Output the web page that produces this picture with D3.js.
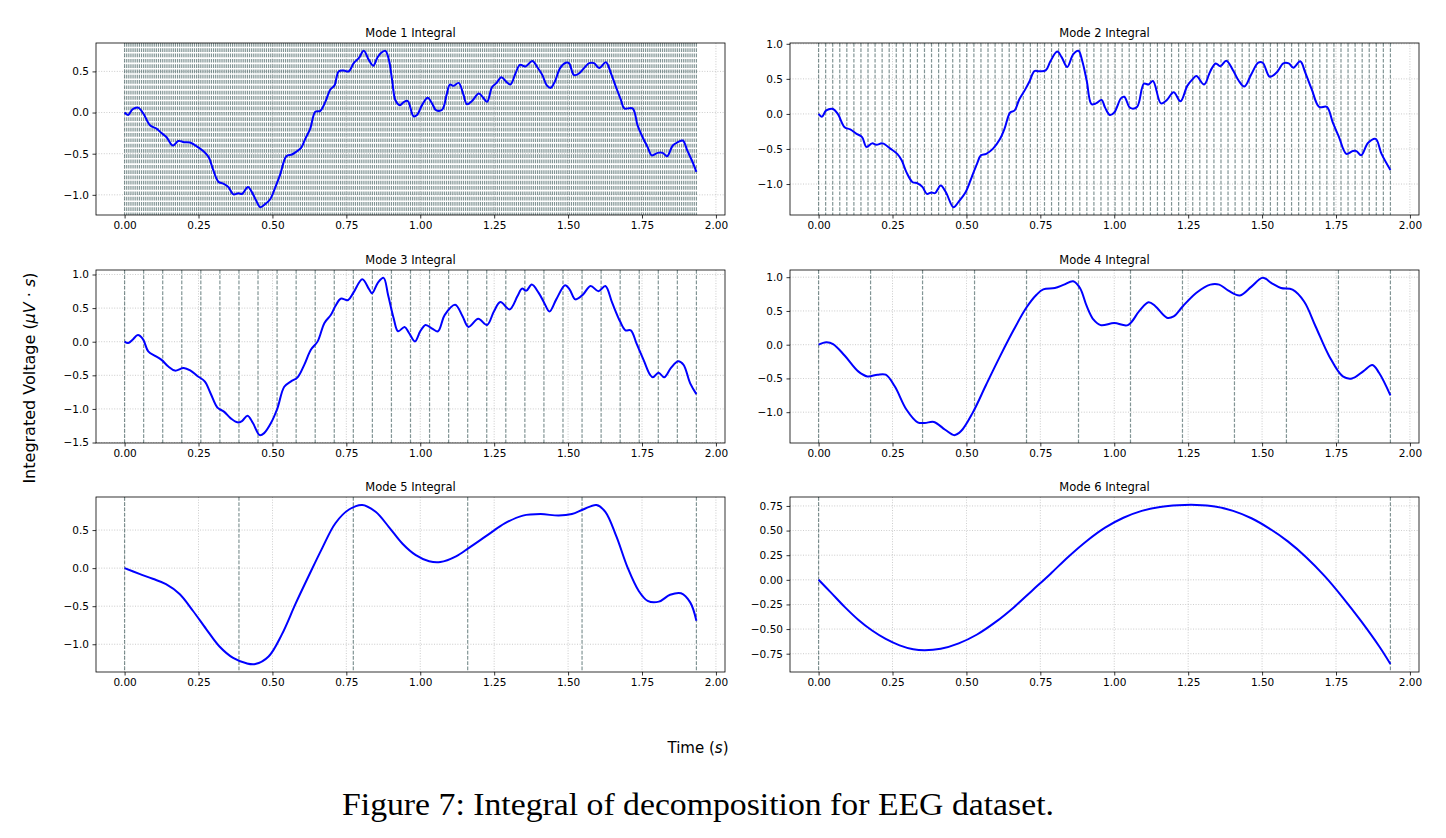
<!DOCTYPE html>
<html><head><meta charset="utf-8">
<script src="https://cdn.jsdelivr.net/npm/d3@7"></script>
<style>body{margin:0;background:#fff;} svg{display:block;}</style>
</head><body><svg id="c" width="1446" height="838"></svg>
<script>
// ---------- DATA ----------
const titles = ["Mode 1 Integral","Mode 2 Integral","Mode 3 Integral","Mode 4 Integral","Mode 5 Integral","Mode 6 Integral"];
const tEnd = 1.934;
const segmentCounts = [270, 81, 30, 11, 5, 1];
const xTicks = [0, 0.25, 0.5, 0.75, 1.0, 1.25, 1.5, 1.75, 2.0];
const yTicks1 = [-1.0, -0.5, 0, 0.5];
const yTicks2 = [-1.0, -0.5, 0, 0.5, 1.0];
const yTicks3 = [-1.5, -1.0, -0.5, 0, 0.5, 1.0];
const yTicks4 = [-1.0, -0.5, 0, 0.5, 1.0];
const yTicks5 = [-1.0, -0.5, 0, 0.5];
const yTicks6 = [-0.75, -0.5, -0.25, 0, 0.25, 0.5, 0.75];

const mode1T = [0,0.012,0.027,0.046,0.063,0.086,0.108,0.125,0.142,0.163,0.182,0.201,0.221,0.244,0.267,0.284,0.30,0.317,0.334,0.351,0.368,0.385,0.397,0.417,0.431,0.445,0.459,0.476,0.493,0.51,0.527,0.547,0.566,0.583,0.597,0.611,0.628,0.645,0.662,0.679,0.696,0.71,0.724,0.741,0.758,0.775,0.792,0.809,0.826,0.841,0.854,0.866,0.882,0.894,0.905,0.916,0.931,0.945,0.958,0.977,0.989,1.006,1.025,1.04,1.053,1.074,1.09,1.10,1.113,1.13,1.145,1.158,1.175,1.198,1.213,1.226,1.243,1.258,1.274,1.292,1.305,1.322,1.337,1.356,1.379,1.396,1.413,1.428,1.441,1.455,1.473,1.492,1.503,1.52,1.537,1.554,1.571,1.588,1.605,1.628,1.645,1.662,1.679,1.69,1.718,1.735,1.752,1.769,1.783,1.803,1.82,1.835,1.854,1.871,1.888,1.903,1.922,1.934];
const mode1V = [0,-0.03,0.04,0.06,-0.01,-0.155,-0.195,-0.25,-0.30,-0.40,-0.345,-0.36,-0.365,-0.41,-0.47,-0.54,-0.70,-0.84,-0.865,-0.905,-0.995,-0.98,-0.99,-0.905,-0.97,-1.07,-1.15,-1.11,-1.05,-0.905,-0.745,-0.53,-0.51,-0.47,-0.43,-0.32,-0.195,0.01,0.02,0.13,0.28,0.33,0.50,0.51,0.50,0.60,0.66,0.75,0.64,0.57,0.66,0.72,0.75,0.64,0.39,0.15,0.09,0.13,0.14,-0.045,-0.03,0.09,0.18,0.11,0.03,0.035,0.23,0.34,0.325,0.36,0.23,0.10,0.14,0.23,0.18,0.13,0.31,0.36,0.43,0.37,0.34,0.475,0.58,0.56,0.625,0.55,0.455,0.33,0.30,0.375,0.54,0.605,0.60,0.455,0.475,0.54,0.60,0.60,0.54,0.61,0.475,0.31,0.15,0.05,0.05,-0.155,-0.30,-0.42,-0.52,-0.49,-0.49,-0.53,-0.40,-0.36,-0.34,-0.46,-0.61,-0.72];

const mode2T = [0,0.011,0.026,0.049,0.065,0.088,0.107,0.127,0.147,0.162,0.181,0.196,0.216,0.243,0.266,0.281,0.297,0.317,0.335,0.351,0.366,0.382,0.394,0.413,0.431,0.456,0.474,0.498,0.518,0.536,0.549,0.567,0.59,0.614,0.629,0.648,0.663,0.679,0.699,0.714,0.73,0.745,0.768,0.784,0.807,0.822,0.841,0.861,0.879,0.892,0.907,0.923,0.938,0.957,0.969,0.985,1.0,1.023,1.034,1.054,1.077,1.10,1.116,1.131,1.158,1.178,1.201,1.224,1.247,1.266,1.278,1.304,1.325,1.343,1.359,1.379,1.402,1.42,1.44,1.464,1.487,1.502,1.526,1.549,1.572,1.59,1.606,1.629,1.646,1.668,1.693,1.719,1.739,1.76,1.785,1.807,1.819,1.835,1.858,1.884,1.904,1.934];
const mode2V = [0,-0.04,0.05,0.07,0.0,-0.19,-0.22,-0.28,-0.33,-0.47,-0.42,-0.44,-0.42,-0.495,-0.57,-0.66,-0.83,-0.97,-0.99,-1.04,-1.14,-1.12,-1.13,-1.02,-1.12,-1.33,-1.25,-1.11,-0.90,-0.71,-0.59,-0.57,-0.495,-0.355,-0.21,0.02,0.05,0.21,0.35,0.47,0.61,0.61,0.62,0.75,0.89,0.81,0.67,0.85,0.90,0.75,0.47,0.14,0.15,0.20,0.09,-0.015,0.02,0.225,0.245,0.085,0.10,0.43,0.42,0.47,0.15,0.20,0.31,0.18,0.40,0.50,0.54,0.42,0.61,0.72,0.68,0.76,0.62,0.48,0.39,0.57,0.73,0.73,0.53,0.59,0.72,0.72,0.66,0.75,0.59,0.35,0.10,0.10,-0.12,-0.33,-0.57,-0.53,-0.53,-0.59,-0.415,-0.355,-0.57,-0.80];

const mode3T = [0,0.012,0.027,0.045,0.062,0.08,0.103,0.125,0.148,0.17,0.2,0.223,0.246,0.271,0.291,0.314,0.336,0.359,0.382,0.397,0.416,0.434,0.457,0.472,0.495,0.517,0.54,0.563,0.585,0.608,0.63,0.653,0.676,0.698,0.713,0.731,0.756,0.774,0.804,0.827,0.837,0.857,0.876,0.891,0.91,0.925,0.947,0.962,0.982,1.0,1.018,1.042,1.06,1.083,1.118,1.143,1.163,1.196,1.226,1.249,1.271,1.302,1.329,1.344,1.359,1.377,1.4,1.419,1.437,1.46,1.49,1.505,1.525,1.55,1.576,1.603,1.626,1.649,1.676,1.694,1.712,1.731,1.757,1.777,1.787,1.806,1.825,1.848,1.872,1.89,1.913,1.934];
const mode3V = [0,-0.02,0.03,0.10,0.04,-0.145,-0.21,-0.27,-0.37,-0.43,-0.39,-0.43,-0.51,-0.59,-0.77,-0.98,-1.04,-1.14,-1.20,-1.18,-1.10,-1.21,-1.39,-1.36,-1.21,-0.99,-0.67,-0.59,-0.53,-0.34,-0.12,0.005,0.28,0.40,0.53,0.64,0.62,0.73,0.93,0.78,0.72,0.88,0.95,0.70,0.35,0.155,0.22,0.13,0.005,0.155,0.25,0.19,0.155,0.40,0.55,0.38,0.22,0.34,0.25,0.45,0.59,0.48,0.68,0.79,0.76,0.85,0.73,0.58,0.45,0.63,0.84,0.78,0.63,0.70,0.83,0.75,0.83,0.58,0.30,0.17,0.17,-0.02,-0.29,-0.49,-0.53,-0.46,-0.53,-0.39,-0.29,-0.34,-0.62,-0.78];

const mode4T = [0,0.026,0.049,0.088,0.134,0.165,0.199,0.227,0.258,0.297,0.335,0.359,0.39,0.428,0.459,0.482,0.521,0.567,0.614,0.66,0.703,0.737,0.76,0.799,0.83,0.861,0.884,0.907,0.93,0.954,1.0,1.046,1.085,1.116,1.139,1.178,1.201,1.232,1.278,1.325,1.355,1.386,1.425,1.464,1.502,1.533,1.564,1.603,1.642,1.681,1.727,1.773,1.804,1.842,1.873,1.896,1.934];
const mode4V = [0,0.035,0.01,-0.16,-0.395,-0.47,-0.445,-0.445,-0.62,-0.96,-1.15,-1.16,-1.145,-1.26,-1.34,-1.28,-1.01,-0.59,-0.17,0.22,0.55,0.74,0.82,0.84,0.89,0.94,0.84,0.57,0.37,0.29,0.32,0.29,0.50,0.63,0.57,0.40,0.42,0.57,0.77,0.89,0.89,0.80,0.73,0.86,0.99,0.91,0.84,0.815,0.64,0.27,-0.17,-0.47,-0.50,-0.395,-0.30,-0.42,-0.75];

const mode5T = [0,0.05,0.095,0.14,0.186,0.231,0.276,0.321,0.367,0.412,0.442,0.487,0.532,0.578,0.623,0.668,0.713,0.759,0.804,0.849,0.894,0.94,0.985,1.03,1.068,1.121,1.166,1.226,1.287,1.347,1.407,1.468,1.513,1.551,1.596,1.626,1.664,1.701,1.739,1.769,1.807,1.845,1.882,1.913,1.934];
const mode5V = [0,-0.075,-0.14,-0.21,-0.34,-0.56,-0.80,-1.03,-1.18,-1.25,-1.26,-1.16,-0.87,-0.47,-0.10,0.26,0.59,0.77,0.83,0.74,0.54,0.32,0.17,0.09,0.08,0.155,0.27,0.43,0.59,0.69,0.71,0.69,0.71,0.77,0.83,0.74,0.41,0.01,-0.30,-0.43,-0.44,-0.35,-0.33,-0.45,-0.69];

const mode6T = [0,0.042,0.088,0.134,0.181,0.227,0.274,0.32,0.359,0.413,0.474,0.536,0.598,0.66,0.722,0.784,0.845,0.907,0.969,1.031,1.093,1.155,1.216,1.278,1.34,1.402,1.464,1.525,1.587,1.649,1.711,1.773,1.835,1.897,1.934];
const mode6V = [0,-0.13,-0.275,-0.405,-0.515,-0.60,-0.665,-0.705,-0.715,-0.70,-0.645,-0.555,-0.43,-0.28,-0.11,0.06,0.235,0.395,0.53,0.63,0.70,0.74,0.757,0.76,0.745,0.70,0.625,0.52,0.39,0.23,0.04,-0.18,-0.42,-0.68,-0.855];

// ---------- LAYOUT ----------
const svg = d3.select("#c");
const cols = [{x0:96, x1:725}, {x0:790, x1:1419}];
const rows = [{y0:43, y1:215}, {y0:270, y1:443}, {y0:497, y1:672}];
const modes = [
  {T:mode1T, V:mode1V, ticks:yTicks1, fmt:".1f"},
  {T:mode2T, V:mode2V, ticks:yTicks2, fmt:".1f"},
  {T:mode3T, V:mode3V, ticks:yTicks3, fmt:".1f"},
  {T:mode4T, V:mode4V, ticks:yTicks4, fmt:".1f"},
  {T:mode5T, V:mode5V, ticks:yTicks5, fmt:".1f"},
  {T:mode6T, V:mode6V, ticks:yTicks6, fmt:".2f"}
];
const FONT = "DejaVu Sans, sans-serif";

modes.forEach((m, i) => {
  const c = cols[i % 2], r = rows[Math.floor(i / 2)];
  const xPad = tEnd * 0.05;
  const x = d3.scaleLinear().domain([-xPad, tEnd + xPad]).range([c.x0, c.x1]);
  const ext = d3.extent(m.V);
  const yPad = (ext[1] - ext[0]) * 0.05;
  const y = d3.scaleLinear().domain([ext[0] - yPad, ext[1] + yPad]).range([r.y1, r.y0]);
  const g = svg.append("g");

  // grid
  g.selectAll(".gx").data(xTicks).join("line")
    .attr("x1", d => x(d)).attr("x2", d => x(d)).attr("y1", r.y0).attr("y2", r.y1)
    .attr("stroke", "#b0b0b0").attr("stroke-width", 0.8).attr("stroke-dasharray", "1,1.6").attr("opacity", 0.8);
  g.selectAll(".gy").data(m.ticks).join("line")
    .attr("x1", c.x0).attr("x2", c.x1).attr("y1", d => y(d)).attr("y2", d => y(d))
    .attr("stroke", "#b0b0b0").attr("stroke-width", 0.8).attr("stroke-dasharray", "1,1.6").attr("opacity", 0.8);

  // segment boundaries
  const n = segmentCounts[i];
  const bounds = d3.range(n + 1).map(k => tEnd * k / n);
  g.selectAll(".vl").data(bounds).join("line")
    .attr("x1", d => x(d)).attr("x2", d => x(d)).attr("y1", r.y0).attr("y2", r.y1)
    .attr("stroke", "#2f4f4f").attr("stroke-opacity", 0.6).attr("stroke-width", 1.2)
    .attr("stroke-dasharray", "3.7,1.6");

  // curve
  const pts = m.T.map((t, k) => [t, m.V[k]]);
  g.append("path").datum(pts)
    .attr("d", d3.line().x(d => x(d[0])).y(d => y(d[1])).curve(d3.curveCatmullRom.alpha(0.5)))
    .attr("fill", "none").attr("stroke", "#0000ff").attr("stroke-width", 2).attr("stroke-linejoin", "round");

  // axes
  const ax = g.append("g").attr("transform", `translate(0,${r.y1})`)
    .call(d3.axisBottom(x).tickValues(xTicks).tickFormat(d3.format(".2f")).tickSize(3.5).tickPadding(3.5).tickSizeOuter(0));
  const ay = g.append("g").attr("transform", `translate(${c.x0},0)`)
    .call(d3.axisLeft(y).tickValues(m.ticks).tickFormat(d3.format(m.fmt)).tickSize(3.5).tickPadding(3.5).tickSizeOuter(0));
  [ax, ay].forEach(a => {
    a.select(".domain").remove();
    a.selectAll("text").attr("font-family", FONT).attr("font-size", 10.5).attr("fill", "#000");
    a.selectAll("line").attr("stroke", "#000").attr("stroke-width", 0.8);
  });

  // spines
  g.append("rect").attr("x", c.x0).attr("y", r.y0).attr("width", c.x1 - c.x0).attr("height", r.y1 - r.y0)
    .attr("fill", "none").attr("stroke", "#000").attr("stroke-width", 0.8);

  // title
  g.append("text").attr("x", (c.x0 + c.x1) / 2).attr("y", r.y0 - 6).attr("text-anchor", "middle")
    .attr("font-family", FONT).attr("font-size", 11.5).attr("fill", "#000").text(titles[i]);
});

// shared labels
const xl = svg.append("text").attr("x", 698).attr("y", 753).attr("text-anchor", "middle")
  .attr("font-family", FONT).attr("font-size", 15).attr("fill", "#000");
xl.append("tspan").text("Time (");
xl.append("tspan").attr("font-style", "italic").text("s");
xl.append("tspan").text(")");

const yl = svg.append("text").attr("transform", "translate(35,378) rotate(-90)").attr("text-anchor", "middle")
  .attr("font-family", FONT).attr("font-size", 16).attr("fill", "#000");
yl.append("tspan").text("Integrated Voltage (");
yl.append("tspan").attr("font-style", "italic").text("μV");
yl.append("tspan").text(" · ");
yl.append("tspan").attr("font-style", "italic").text("s");
yl.append("tspan").text(")");

svg.append("text").attr("x", 698).attr("y", 815).attr("text-anchor", "middle")
  .attr("font-family", "Liberation Serif, serif").attr("font-size", 32).attr("fill", "#000")
  .attr("textLength", 712).attr("lengthAdjust", "spacingAndGlyphs")
  .text("Figure 7: Integral of decomposition for EEG dataset.");
</script></body></html>
